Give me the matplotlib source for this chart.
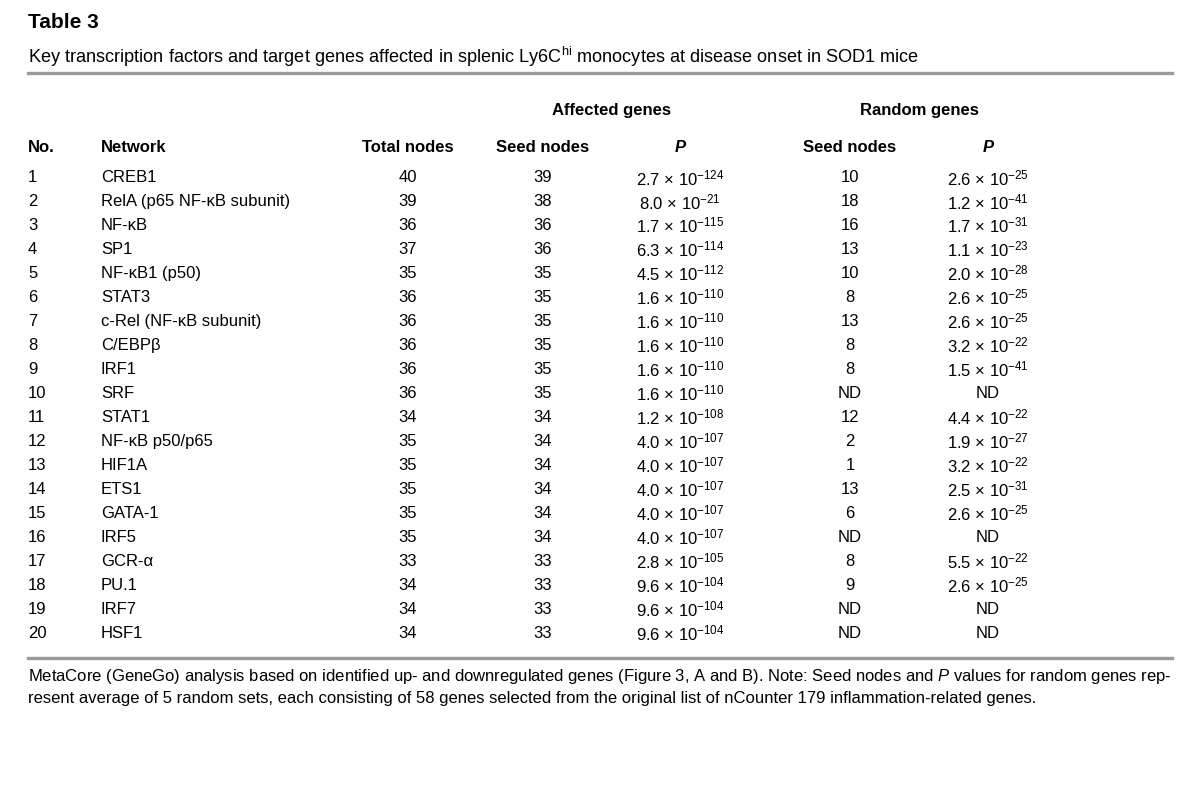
import matplotlib
matplotlib.use("Agg")
import matplotlib.pyplot as plt

plt.rcParams['font.family'] = ['Liberation Sans', 'DejaVu Sans']
plt.rcParams['mathtext.fontset'] = 'custom'
plt.rcParams['mathtext.rm'] = 'Liberation Sans'
plt.rcParams['mathtext.it'] = 'Liberation Sans:italic'
plt.rcParams['mathtext.bf'] = 'Liberation Sans:bold'

# table content
nos = list(range(1, 21))
networks = ["CREB1", "RelA (p65 NF-κB subunit)", "NF-κB", "SP1", "NF-κB1 (p50)",
            "STAT3", "c-Rel (NF-κB subunit)", "C/EBPβ", "IRF1", "SRF", "STAT1",
            "NF-κB p50/p65", "HIF1A", "ETS1", "GATA-1", "IRF5", "GCR-α", "PU.1",
            "IRF7", "HSF1"]
total_nodes = [40, 39, 36, 37, 35, 36, 36, 36, 36, 36, 34, 35, 35, 35, 35, 35, 33, 34, 34, 34]
seed_affected = [39, 38, 36, 36, 35, 35, 35, 35, 35, 35, 34, 34, 34, 34, 34, 34, 33, 33, 33, 33]
p_affected = [("2.7", 124), ("8.0", 21), ("1.7", 115), ("6.3", 114), ("4.5", 112),
              ("1.6", 110), ("1.6", 110), ("1.6", 110), ("1.6", 110), ("1.6", 110),
              ("1.2", 108), ("4.0", 107), ("4.0", 107), ("4.0", 107), ("4.0", 107),
              ("4.0", 107), ("2.8", 105), ("9.6", 104), ("9.6", 104), ("9.6", 104)]
seed_random = ["10", "18", "16", "13", "10", "8", "13", "8", "8", "ND", "12", "2", "1",
               "13", "6", "ND", "8", "9", "ND", "ND"]
p_random = [("2.6", 25), ("1.2", 41), ("1.7", 31), ("1.1", 23), ("2.0", 28),
            ("2.6", 25), ("2.6", 25), ("3.2", 22), ("1.5", 41), None,
            ("4.4", 22), ("1.9", 27), ("3.2", 22), ("2.5", 31), ("2.6", 25),
            None, ("5.5", 22), ("2.6", 25), None, None]

W, H = 1200, 790
fig = plt.figure(figsize=(W / 100, H / 100), dpi=100)
fig.patch.set_facecolor("white")


def px(x, y):
    return x / W, 1 - y / H


def put(x, y, s, **kw):
    kw.setdefault("fontsize", 12)
    kw.setdefault("va", "center")
    kw.setdefault("color", "black")
    fig.text(*px(x, y), s, **kw)


def pval(v):
    if v is None:
        return "ND"
    m, e = v
    return r"$\mathregular{%s\ ×\ 10^{−%d}}$" % (m, e)


# title block
put(28, 22, "Table 3", fontsize=15, weight="bold")
put(28, 57, r"Key transcription factors and target genes affected in splenic Ly6C$\mathregular{^{hi}}$ monocytes at disease onset in SOD1 mice",
    fontsize=13.1)
fig.add_artist(plt.Line2D([28 / W, 1172 / W], [1 - 73 / H] * 2, color="#9a9a9a", lw=2.4))

# column positions
x_no, x_net = 28, 101
x_tot, x_sa, x_pa, x_sr, x_pr = 408, 543, 680, 850, 988

put((x_sa + x_pa) / 2, 110, "Affected genes", weight="bold", ha="center")
put((x_sr + x_pr) / 2, 110, "Random genes", weight="bold", ha="center")
hy = 148
put(x_no, hy, "No.", weight="bold")
put(x_net, hy, "Network", weight="bold")
put(x_tot, hy, "Total nodes", weight="bold", ha="center")
put(x_sa, hy, "Seed nodes", weight="bold", ha="center")
put(x_pa, hy, "P", weight="bold", style="italic", ha="center")
put(x_sr, hy, "Seed nodes", weight="bold", ha="center")
put(x_pr, hy, "P", weight="bold", style="italic", ha="center")

y0, dy = 178, 23.95
for i in range(len(nos)):
    y = y0 + i * dy
    put(x_no, y, str(nos[i]))
    put(x_net, y, networks[i])
    put(x_tot, y, str(total_nodes[i]), ha="center")
    put(x_sa, y, str(seed_affected[i]), ha="center")
    put(x_pa, y, pval(p_affected[i]), ha="center")
    put(x_sr, y, seed_random[i], ha="center")
    put(x_pr, y, pval(p_random[i]), ha="center")

fig.add_artist(plt.Line2D([28 / W, 1172 / W], [1 - 658 / H] * 2, color="#9a9a9a", lw=2.4))

put(28, 677, r"MetaCore (GeneGo) analysis based on identified up- and downregulated genes (Figure 3, A and B). Note: Seed nodes and $\mathit{P}$ values for random genes rep-",
    fontsize=12)
put(28, 699, "resent average of 5 random sets, each consisting of 58 genes selected from the original list of nCounter 179 inflammation-related genes.",
    fontsize=12)

fig.savefig("out.png", dpi=100, facecolor="white")
